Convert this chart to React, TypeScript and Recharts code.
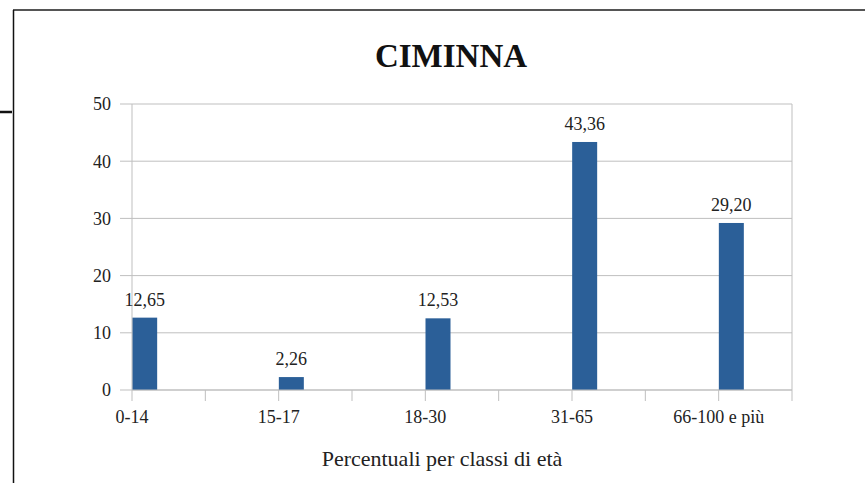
import { BarChart, Bar, XAxis, YAxis, CartesianGrid, LabelList, ReferenceLine } from "recharts"

// values
const categories = ["0-14", "15-17", "18-30", "31-65", "66-100 e più"]
const percentuali = [12.65, 2.26, 12.53, 43.36, 29.2]
const yTicks = [0, 10, 20, 30, 40, 50]

// each class sits on every second tick of a 9-slot axis
const slotTicks = [0, 1, 2, 3, 4, 5, 6, 7, 8, 9]
const data = categories.map((name, i) => ({ slot: i * 2, name, value: percentuali[i] }))

const FONT = "'Liberation Serif', 'Times New Roman', serif"
const BAR = "#2b5f98"
const GRID = "#bfbfbf"

const fmt = (v: number) => v.toFixed(2).replace(".", ",")

// Excel draws the bar starting at the tick, not centred on it
const LeftBar = (props: any) => {
  const { x, y, width, height } = props
  return <rect x={x + width / 2} y={y} width={width} height={height} fill={BAR} />
}

const BarLabel = (props: any) => {
  const { x, y, width, value } = props
  return (
    <text x={x + width} y={y - 12} textAnchor="middle" style={{ fontFamily: FONT }} fontSize={18} fill="#222">
      {fmt(value)}
    </text>
  )
}

const tickStyle = { fontFamily: FONT, fontSize: 18, fill: "#222" }

export default function App() {
  return (
    <div style={{ position: "absolute", left: 0, top: 0, width: 865, height: 483, background: "#fff", fontFamily: FONT }}>
      <BarChart width={865} height={483} data={data} margin={{ top: 104, right: 73, bottom: 33, left: 0 }} style={{ fontFamily: FONT }}>
        <CartesianGrid vertical={false} stroke={GRID} />
        <XAxis
          dataKey="slot"
          type="number"
          domain={[0, 9]}
          ticks={slotTicks}
          interval={0}
          height={60}
          tickSize={11}
          tickMargin={9}
          stroke={GRID}
          tick={{ ...tickStyle, style: { fontFamily: FONT } }}
          tickFormatter={(t: number) => (t % 2 === 0 && categories[t / 2] ? categories[t / 2] : "")}
        />
        <YAxis
          domain={[0, 50]}
          ticks={yTicks}
          width={132}
          tickSize={12}
          tickMargin={9}
          stroke={GRID}
          tick={{ ...tickStyle, style: { fontFamily: FONT } }}
        />
        <ReferenceLine x={9} stroke={GRID} />
        <Bar dataKey="value" barSize={25} fill={BAR} shape={LeftBar} isAnimationActive={false}>
          <LabelList dataKey="value" content={BarLabel} />
        </Bar>
      </BarChart>
      <svg width={865} height={483} style={{ position: "absolute", left: 0, top: 0, pointerEvents: "none" }}>
        <line x1={13} y1={10} x2={865} y2={10} stroke="#555" strokeWidth={2} />
        <line x1={13.5} y1={10} x2={13.5} y2={483} stroke="#111" strokeWidth={1.5} />
        <line x1={0} y1={112} x2={12} y2={112} stroke="#111" strokeWidth={2.5} />
        <text x={451} y={67} textAnchor="middle" style={{ fontFamily: FONT }} fontWeight="bold" fontSize={33} fill="#111">
          CIMINNA
        </text>
        <text x={442} y={466} textAnchor="middle" style={{ fontFamily: FONT }} fontSize={22} fill="#222">
          Percentuali per classi di età
        </text>
      </svg>
    </div>
  )
}
